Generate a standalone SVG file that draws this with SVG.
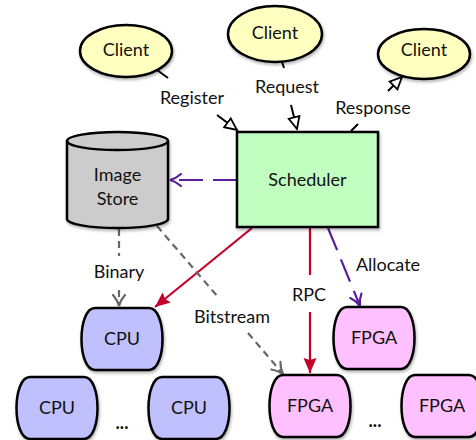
<svg xmlns="http://www.w3.org/2000/svg" xmlns:xlink="http://www.w3.org/1999/xlink" width="476" height="440" viewBox="0 0 476 440">
<style>
  text { font-family: Lato, "Open Sans", "Liberation Sans", sans-serif; font-size: 18px; fill: #111; text-anchor: middle; }
  .node { stroke: #000; stroke-width: 2.5; filter: url(#sh); }
  .client { fill: #ffffc0; }
  .sched { fill: #c0ffc0; }
  .store { fill: #cccccc; }
  .cpu { fill: #c0c0ff; }
  .fpga { fill: #ffc0ff; }
  .blk { fill: none; stroke: #000; stroke-width: 2; }
  .red { fill: none; stroke: #c4002a; stroke-width: 2.2; }
  .pur { fill: none; stroke: #5a1e9a; stroke-width: 2.2; stroke-dasharray: 24 10; }
  .gry { fill: none; stroke: #666; stroke-width: 2.2; stroke-dasharray: 7 5; }
  .dots { font-weight: bold; }
</style>
<defs>
  <filter id="sh" x="-20%" y="-20%" width="140%" height="150%">
    <feDropShadow dx="1" dy="2" stdDeviation="1.5" flood-color="#000" flood-opacity="0.3"/>
  </filter>
  <path id="pill" d="M14,0 H68 C86,0 86,62 68,62 H14 C-4,62 -4,0 14,0 Z"/>
  <marker id="open" markerUnits="userSpaceOnUse" viewBox="-1 -7 15 14" refX="12" refY="0" markerWidth="15" markerHeight="14" orient="auto">
    <path d="M0,-5.5 L12,0 L0,5.5 Z" fill="#fff" stroke="#000" stroke-width="1.8" stroke-linejoin="miter"/>
  </marker>
  <marker id="redh" markerUnits="userSpaceOnUse" viewBox="0 -7 16 14" refX="15" refY="0" markerWidth="16" markerHeight="14" orient="auto">
    <path d="M0,-6.5 L15,0 L0,6.5 L2,0 Z" fill="#c4002a"/>
  </marker>
  <marker id="purh" markerUnits="userSpaceOnUse" viewBox="-2 -8 14 16" refX="11" refY="0" markerWidth="14" markerHeight="16" orient="auto">
    <path d="M0,-6 Q5,-1.5 11,0 Q5,1.5 0,6" fill="none" stroke="#5a1e9a" stroke-width="2.2" stroke-linecap="round"/>
  </marker>
  <marker id="gryh" markerUnits="userSpaceOnUse" viewBox="-2 -8 14 16" refX="11" refY="0" markerWidth="14" markerHeight="16" orient="auto">
    <path d="M0,-6 Q5,-1.5 11,0 Q5,1.5 0,6" fill="none" stroke="#666" stroke-width="2.2" stroke-linecap="round"/>
  </marker>
</defs>

<g id="connectors">
  <path id="register" class="blk" d="M157,70 L168,78 M217,115 L237,130" marker-end="url(#open)"/>
  <path id="request" class="blk" d="M282,62 L284,68 M291,105 L297,129" marker-end="url(#open)"/>
  <path id="response" class="blk" d="M351,131 L358,124 M388,91 L402,77" marker-end="url(#open)"/>
  <path id="toStore" class="pur" d="M237,180 L170,180" marker-end="url(#purh)"/>
  <path id="toCpu" class="red" d="M252,228 L155,307" marker-end="url(#redh)"/>
  <path id="rpc" class="red" d="M310,228 L310,275 M310,312 L310,373" marker-end="url(#redh)"/>
  <path id="allocate" class="pur" d="M328,228 L360,306" marker-end="url(#purh)"/>
  <path id="binary" class="gry" d="M119,229 L119,256 M119,290 L119,306" marker-end="url(#gryh)"/>
  <path id="bitstream" class="gry" d="M157,226 L218,297 M248,333 L283,374" marker-end="url(#gryh)"/>
  <text x="192" y="98" dy="0.35em">Register</text>
  <text x="287" y="87" dy="0.35em">Request</text>
  <text x="373" y="108" dy="0.35em">Response</text>
  <text x="119" y="272" dy="0.35em">Binary</text>
  <text x="232" y="317" dy="0.35em">Bitstream</text>
  <text x="309" y="295" dy="0.35em">RPC</text>
  <text x="388" y="265" dy="0.35em">Allocate</text>
</g>

<g id="client1">
  <ellipse class="node client" cx="126" cy="51" rx="46" ry="26"/>
  <text x="126" y="50" dy="0.35em">Client</text>
</g>
<g id="client2">
  <ellipse class="node client" cx="275" cy="34" rx="47" ry="28"/>
  <text x="275" y="33" dy="0.35em">Client</text>
</g>
<g id="client3">
  <ellipse class="node client" cx="424" cy="54" rx="46" ry="25"/>
  <text x="424" y="50" dy="0.35em">Client</text>
</g>

<g id="scheduler">
  <rect class="node sched" x="237" y="132" width="141" height="95"/>
  <text x="307.5" y="180" dy="0.35em">Scheduler</text>
</g>

<g id="imagestore">
  <path class="node store" d="M67,141 A50.5,9 0 0 1 168,141 V219 A50.5,9 0 0 1 67,219 Z"/>
  <path d="M67,141 A50.5,9 0 0 0 168,141" fill="none" stroke="#000" stroke-width="2.5"/>
  <text x="117.5" y="175" dy="0.35em">Image</text>
  <text x="117.5" y="199" dy="0.35em">Store</text>
</g>

<g id="cpu1">
  <use xlink:href="#pill" x="81" y="308" class="node cpu"/>
  <text x="122" y="339" dy="0.35em">CPU</text>
</g>
<g id="cpu2">
  <use xlink:href="#pill" x="16" y="377" class="node cpu"/>
  <text x="57" y="408" dy="0.35em">CPU</text>
</g>
<g id="cpu3">
  <use xlink:href="#pill" x="148" y="377" class="node cpu"/>
  <text x="189" y="408" dy="0.35em">CPU</text>
</g>
<g id="fpga1">
  <use xlink:href="#pill" x="333" y="307" class="node fpga"/>
  <text x="374" y="338" dy="0.35em">FPGA</text>
</g>
<g id="fpga2">
  <use xlink:href="#pill" x="269" y="375" class="node fpga"/>
  <text x="310" y="406" dy="0.35em">FPGA</text>
</g>
<g id="fpga3">
  <use xlink:href="#pill" x="401" y="375" class="node fpga"/>
  <text x="442" y="406" dy="0.35em">FPGA</text>
</g>

<text class="dots" x="122" y="425" dy="0.2em">...</text>
<text class="dots" x="375" y="423" dy="0.2em">...</text>
</svg>
